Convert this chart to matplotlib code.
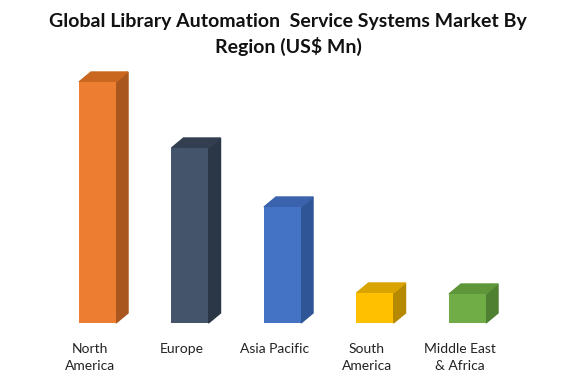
import numpy as np
from matplotlib import pyplot as plt
from matplotlib.patches import Polygon

title = "Global Library Automation  Service Systems Market By\nRegion (US$ Mn)"
regions = ["North\nAmerica", "Europe", "Asia Pacific", "South\nAmerica", "Middle East\n& Africa"]
values = [241, 175, 116, 30, 29]
front_colors = ["#ED7D31", "#44546A", "#4472C4", "#FFC000", "#70AD47"]
side_colors = ["#A9561F", "#2B3646", "#2F5597", "#B58A00", "#4F7F31"]
top_colors = ["#C9661F", "#333F50", "#3A62AD", "#D9A300", "#5E9639"]

plt.rcParams["font.family"] = ["Lato", "DejaVu Sans"]

fig = plt.figure(figsize=(5.76, 3.84), dpi=100)
ax = fig.add_axes([0, 0, 1, 1])
ax.set_xlim(-1.054, 5.173)
ax.set_ylim(-61, 323)
ax.axis("off")

x = np.arange(len(values))
w = 0.4
dx, dy = 0.13, 10

ax.bar(x, values, width=w, color=front_colors, zorder=3)
for xi, v, sc, tc in zip(x, values, side_colors, top_colors):
    r = xi + w / 2
    l = xi - w / 2
    ax.add_patch(Polygon([(r, 0), (r + dx, dy), (r + dx, v + dy), (r, v)],
                         closed=True, color=sc, zorder=2))
    ax.add_patch(Polygon([(l, v), (r, v), (r + dx, v + dy), (l + dx, v + dy)],
                         closed=True, color=tc, zorder=2))

for xi, name in zip(x, regions):
    ax.text(xi - 0.086, -20, name, ha="center", va="top", fontsize=10,
            color="#222222", linespacing=1.55)

fig.text(0.5, 0.965, title, ha="center", va="top", fontsize=14,
         fontweight="bold", color="#111111", linespacing=1.4)

fig.savefig("out.png", dpi=100)
